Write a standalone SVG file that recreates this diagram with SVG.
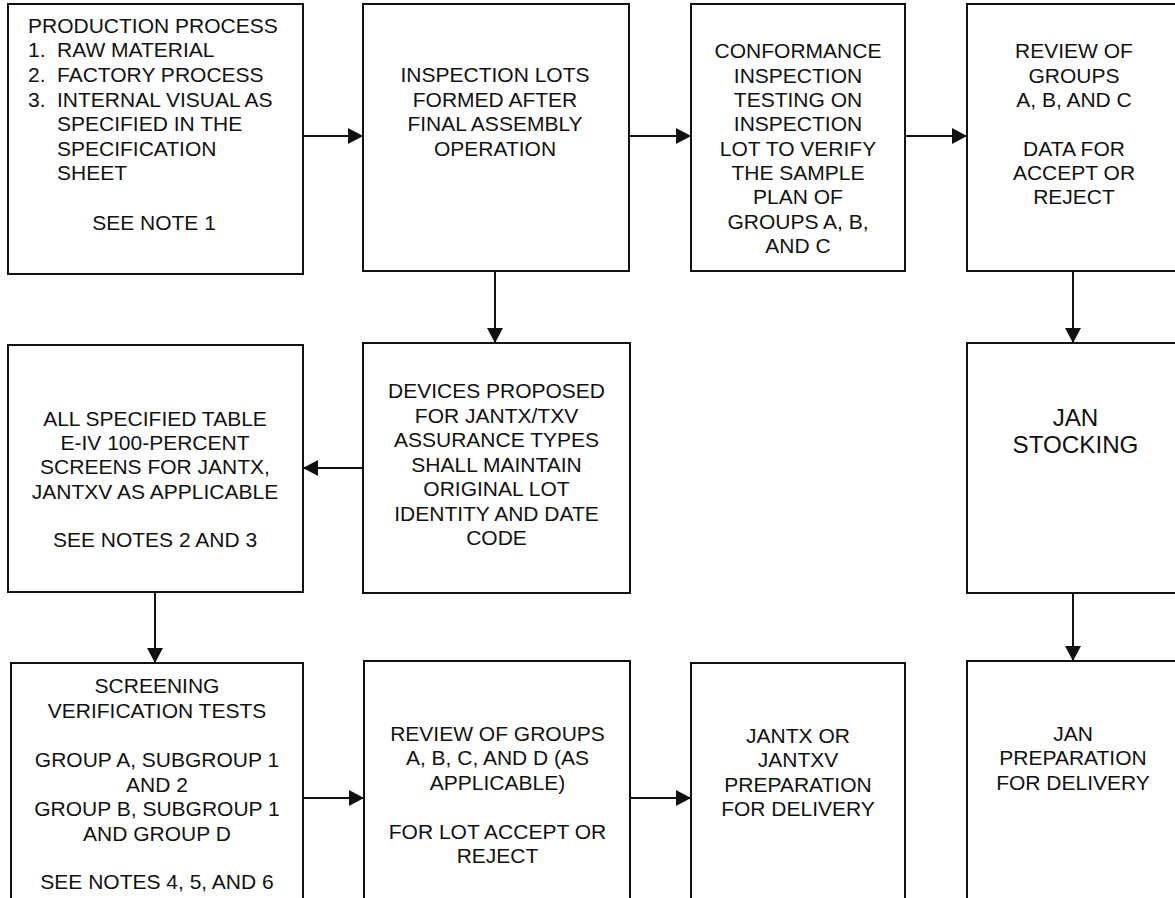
<svg xmlns="http://www.w3.org/2000/svg" width="1175" height="898" viewBox="0 0 1175 898">
<style>
.box{fill:#fff;stroke:#111;stroke-width:2}
.t{font-family:"Liberation Sans",Arial,sans-serif;font-size:21px;fill:#111;text-anchor:middle}
.tl{font-family:"Liberation Sans",Arial,sans-serif;font-size:21px;fill:#111}
.big{font-size:24.2px}
.c{fill:none;stroke:#111;stroke-width:2;marker-end:url(#ah)}
</style>
<defs>
<marker id="ah" markerUnits="userSpaceOnUse" markerWidth="16" markerHeight="16" refX="15" refY="8" orient="auto">
<path d="M0,0 L15,8 L0,16 z" fill="#111"/>
</marker>
</defs>
<rect width="1175" height="898" fill="#fff"/>
<g id="connectors">
<path class="c" d="M303,136 H363"/>
<path class="c" d="M629,136 H691"/>
<path class="c" d="M905,136 H967"/>
<path class="c" d="M495,271 V343"/>
<path class="c" d="M1073,271 V343"/>
<path class="c" d="M363,468 H303"/>
<path class="c" d="M155,592 V663"/>
<path class="c" d="M1073,593 V661"/>
<path class="c" d="M303,798 H364"/>
<path class="c" d="M630,798 H691"/>
</g>
<g id="n1">
<rect class="box" x="8" y="4" width="295" height="270"/>
<text class="tl" x="28" y="33">PRODUCTION PROCESS</text>
<text class="tl" x="28" y="57">1.</text><text class="tl" x="57" y="57">RAW MATERIAL</text>
<text class="tl" x="28" y="82">2.</text><text class="tl" x="57" y="82">FACTORY PROCESS</text>
<text class="tl" x="28" y="106.5">3.</text><text class="tl" x="57" y="106.5">INTERNAL VISUAL AS</text>
<text class="tl" x="57" y="131">SPECIFIED IN THE</text>
<text class="tl" x="57" y="155.5">SPECIFICATION</text>
<text class="tl" x="57" y="180">SHEET</text>
<text class="t" x="154" y="229.5">SEE NOTE 1</text>
</g>
<g id="n2">
<rect class="box" x="363" y="4" width="266" height="267"/>
<text class="t" x="495" y="82">INSPECTION LOTS</text>
<text class="t" x="495" y="106.5">FORMED AFTER</text>
<text class="t" x="495" y="131">FINAL ASSEMBLY</text>
<text class="t" x="495" y="156">OPERATION</text>
</g>
<g id="n3">
<rect class="box" x="691" y="4" width="214" height="267"/>
<text class="t" x="798" y="58.3">CONFORMANCE</text>
<text class="t" x="798" y="82.7">INSPECTION</text>
<text class="t" x="798" y="107">TESTING ON</text>
<text class="t" x="798" y="131.3">INSPECTION</text>
<text class="t" x="798" y="155.7">LOT TO VERIFY</text>
<text class="t" x="798" y="180">THE SAMPLE</text>
<text class="t" x="798" y="204.3">PLAN OF</text>
<text class="t" x="798" y="228.7">GROUPS A, B,</text>
<text class="t" x="798" y="253">AND C</text>
</g>
<g id="n4">
<rect class="box" x="967" y="4" width="214" height="267"/>
<text class="t" x="1074" y="58.3">REVIEW OF</text>
<text class="t" x="1074" y="82.7">GROUPS</text>
<text class="t" x="1074" y="107">A, B, AND C</text>
<text class="t" x="1074" y="155.7">DATA FOR</text>
<text class="t" x="1074" y="180">ACCEPT OR</text>
<text class="t" x="1074" y="204.3">REJECT</text>
</g>
<g id="n5">
<rect class="box" x="8" y="345" width="295" height="247"/>
<text class="t" x="155" y="425.7">ALL SPECIFIED TABLE</text>
<text class="t" x="155" y="450">E-IV 100-PERCENT</text>
<text class="t" x="155" y="474.3">SCREENS FOR JANTX,</text>
<text class="t" x="155" y="498.7">JANTXV AS APPLICABLE</text>
<text class="t" x="155" y="547.3">SEE NOTES 2 AND 3</text>
</g>
<g id="n6">
<rect class="box" x="363" y="343" width="267" height="250"/>
<text class="t" x="496.5" y="398.3">DEVICES PROPOSED</text>
<text class="t" x="496.5" y="422.7">FOR JANTX/TXV</text>
<text class="t" x="496.5" y="447.2">ASSURANCE TYPES</text>
<text class="t" x="496.5" y="471.7">SHALL MAINTAIN</text>
<text class="t" x="496.5" y="496.2">ORIGINAL LOT</text>
<text class="t" x="496.5" y="520.7">IDENTITY AND DATE</text>
<text class="t" x="496.5" y="545.2">CODE</text>
</g>
<g id="n7">
<rect class="box" x="967" y="343" width="214" height="250"/>
<text class="t big" x="1075.5" y="426">JAN</text>
<text class="t big" x="1075.5" y="452.7">STOCKING</text>
</g>
<g id="n8">
<rect class="box" x="11" y="663" width="292" height="260"/>
<text class="t" x="157" y="693.3">SCREENING</text>
<text class="t" x="157" y="717.7">VERIFICATION TESTS</text>
<text class="t" x="157" y="767.3">GROUP A, SUBGROUP 1</text>
<text class="t" x="157" y="791.7">AND 2</text>
<text class="t" x="157" y="816">GROUP B, SUBGROUP 1</text>
<text class="t" x="157" y="840.5">AND GROUP D</text>
<text class="t" x="157" y="889.3">SEE NOTES 4, 5, AND 6</text>
</g>
<g id="n9">
<rect class="box" x="364" y="661" width="266" height="260"/>
<text class="t" x="497.5" y="740.7">REVIEW OF GROUPS</text>
<text class="t" x="497.5" y="765.3">A, B, C, AND D (AS</text>
<text class="t" x="497.5" y="789.7">APPLICABLE)</text>
<text class="t" x="497.5" y="838.7">FOR LOT ACCEPT OR</text>
<text class="t" x="497.5" y="863.2">REJECT</text>
</g>
<g id="n10">
<rect class="box" x="691" y="663" width="214" height="260"/>
<text class="t" x="798" y="742.7">JANTX OR</text>
<text class="t" x="798" y="767">JANTXV</text>
<text class="t" x="798" y="791.5">PREPARATION</text>
<text class="t" x="798" y="816">FOR DELIVERY</text>
</g>
<g id="n11">
<rect class="box" x="967" y="661" width="214" height="260"/>
<text class="t" x="1073" y="740.7">JAN</text>
<text class="t" x="1073" y="765.3">PREPARATION</text>
<text class="t" x="1073" y="789.7">FOR DELIVERY</text>
</g>
</svg>
